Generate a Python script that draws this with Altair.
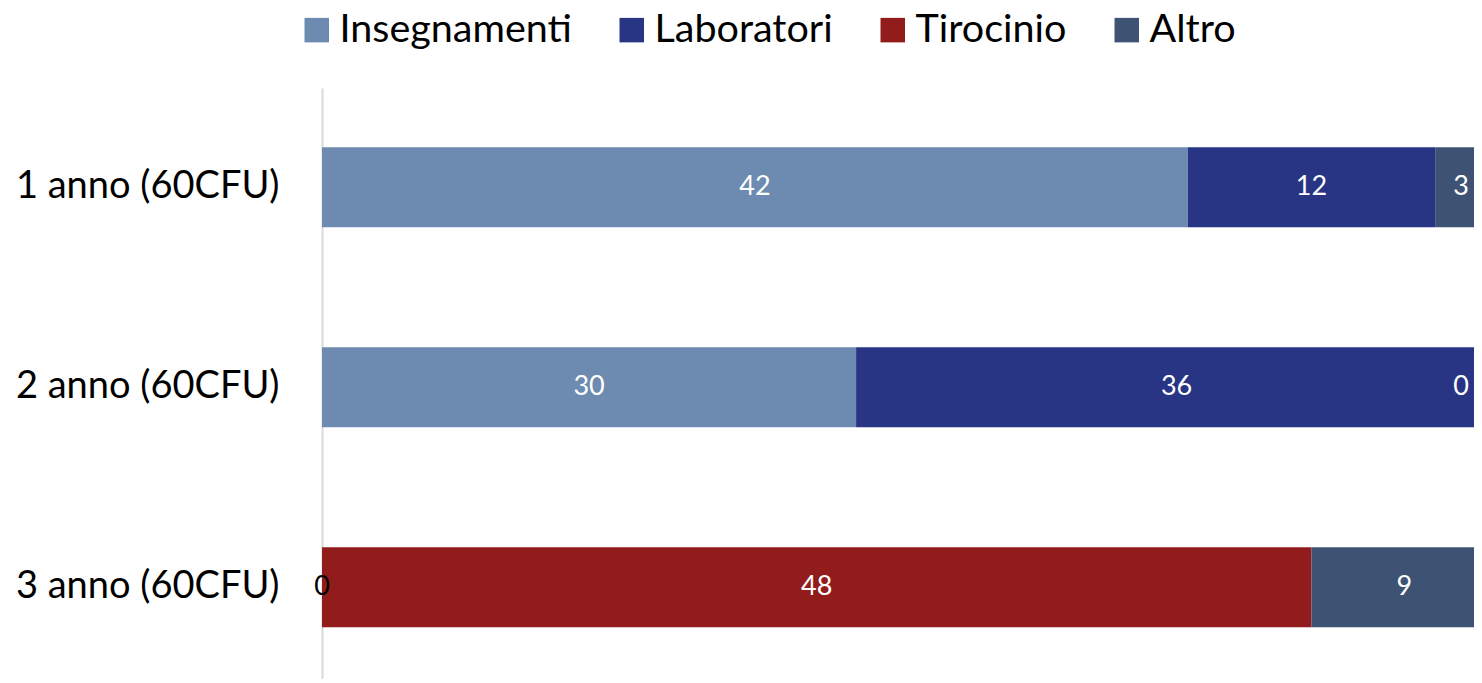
import altair as alt
import pandas as pd

years = ["1 anno (60CFU)", "2 anno (60CFU)", "3 anno (60CFU)"]
categories = ["Insegnamenti", "Laboratori", "Tirocinio", "Altro"]
colors = ["#6D8BB0", "#283584", "#921B1B", "#3E5373"]

insegnamenti = [42, 30, 0]
laboratori = [12, 36, 0]
tirocinio = [0, 0, 48]
altro = [3, 0, 9]

labels_insegnamenti = ["42", "30", "0"]
labels_laboratori = ["12", "36", ""]
labels_tirocinio = ["", "", "48"]
labels_altro = ["3", "0", "9"]

series = [insegnamenti, laboratori, tirocinio, altro]
labels = [labels_insegnamenti, labels_laboratori, labels_tirocinio, labels_altro]

rows = []
for ci, cat in enumerate(categories):
    for yi, yr in enumerate(years):
        rows.append({"anno": yr, "categoria": cat, "ordine": ci,
                     "valore": series[ci][yi], "etichetta": labels[ci][yi]})
df = pd.DataFrame(rows)

FONT = "Lato"
PLOT_W = 1152
XMAX = PLOT_W / 1175

base = alt.Chart(df).transform_stack(
    stack="valore", groupby=["anno"], as_=["v0", "v1"], offset="normalize",
    sort=[alt.SortField("ordine", order="ascending")]
).transform_calculate(
    xm="min((datum.v0 + datum.v1) / 2, 0.9695)"
)

yenc = alt.Y("anno:N", sort=years, title=None,
             scale=alt.Scale(paddingInner=0.6, paddingOuter=0.2775, align=0.534),
             axis=alt.Axis(ticks=False, labelFont=FONT, labelFontSize=38,
                           labelColor="black", labelPadding=43, labelLimit=0,
                           domainColor="#D9D9D9", domainWidth=2, grid=False))

xscale = alt.Scale(domain=[0, XMAX], nice=False, zero=True)

bars = base.mark_bar(clip=True).encode(
    y=yenc,
    x=alt.X("v0:Q", scale=xscale, axis=None),
    x2="v1:Q",
    color=alt.Color("categoria:N", sort=categories,
                    scale=alt.Scale(domain=categories, range=colors),
                    legend=alt.Legend(orient="none", legendX=-25, legendY=-78,
                                      direction="horizontal", title=None,
                                      symbolType="square", symbolSize=600,
                                      symbolStrokeWidth=0, symbolOpacity=1,
                                      labelFont=FONT, labelFontSize=39.5,
                                      labelColor="black", columnPadding=40,
                                      labelOffset=3, padding=0, labelLimit=0))
)

texts = base.mark_text(font=FONT, fontSize=27, baseline="middle", align="center").encode(
    y=alt.Y("anno:N", sort=years),
    x=alt.X("xm:Q", scale=xscale, axis=None),
    text="etichetta:N",
    color=alt.condition("datum.xm < 0.01", alt.value("black"), alt.value("white"))
)

chart = alt.layer(bars, texts).properties(
    width=PLOT_W, height=591,
    autosize=alt.AutoSizeParams(type="none"),
    padding={"left": 314, "top": 80, "right": 0, "bottom": 0}
).configure_view(stroke=None)

chart.save("out.html", embed_options={"renderer": "svg", "actions": False})
